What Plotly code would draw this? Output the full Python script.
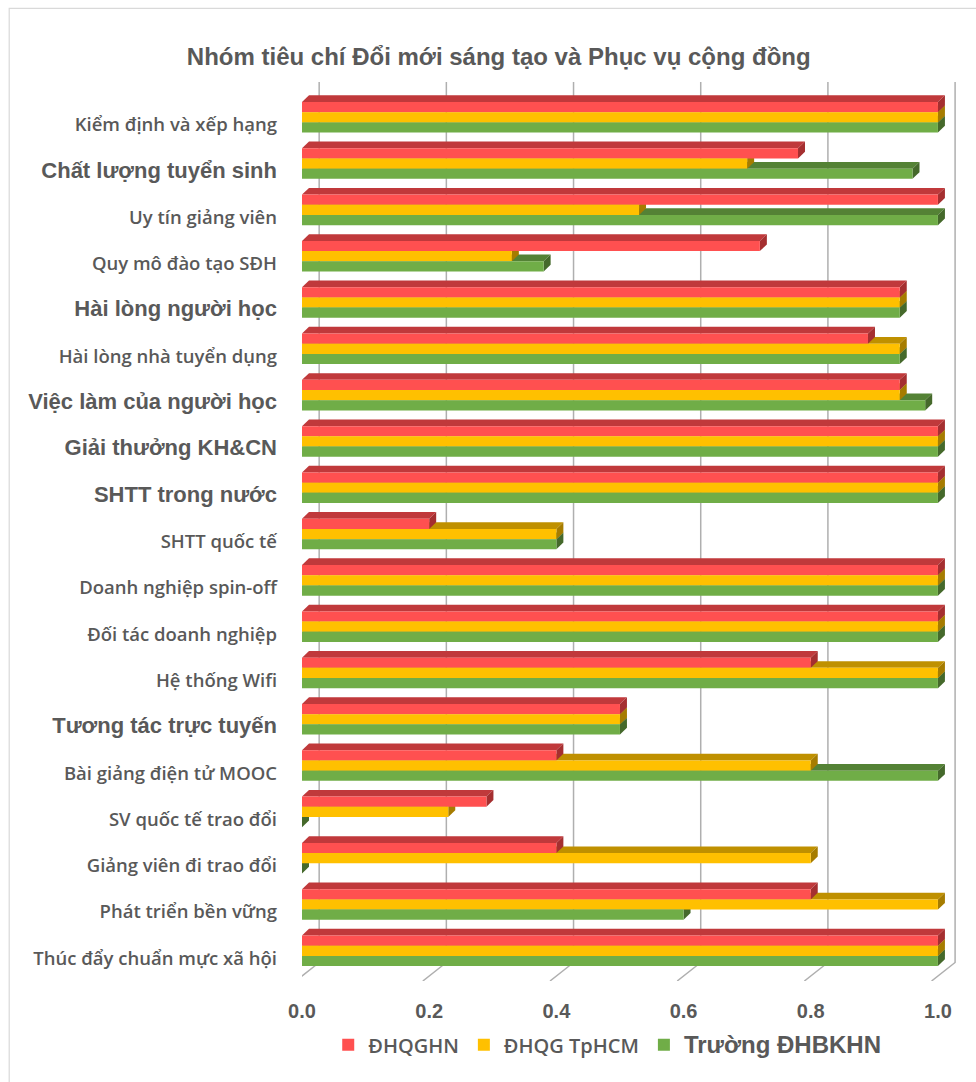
import plotly.graph_objects as go

categories = ["Kiểm định và xếp hạng", "Chất lượng tuyển sinh", "Uy tín giảng viên",
              "Quy mô đào tạo SĐH", "Hài lòng người học", "Hài lòng nhà tuyển dụng",
              "Việc làm của người học", "Giải thưởng KH&CN", "SHTT trong nước",
              "SHTT quốc tế", "Doanh nghiệp spin-off", "Đối tác doanh nghiệp",
              "Hệ thống Wifi", "Tương tác trực tuyến", "Bài giảng điện tử MOOC",
              "SV quốc tế trao đổi", "Giảng viên đi trao đổi", "Phát triển bền vững",
              "Thúc đẩy chuẩn mực xã hội"]
big_label = [False, True, False, False, True, False, True, True, True, False,
             False, False, False, True, False, False, False, False, False]

dhqghn = [1.0, 0.78, 1.0, 0.72, 0.94, 0.89, 0.94, 1.0, 1.0, 0.2, 1.0, 1.0, 0.8, 0.5, 0.4, 0.29, 0.4, 0.8, 1.0]
tphcm = [1.0, 0.70, 0.53, 0.33, 0.94, 0.94, 0.94, 1.0, 1.0, 0.4, 1.0, 1.0, 1.0, 0.5, 0.8, 0.23, 0.8, 1.0, 1.0]
bkhn = [1.0, 0.96, 1.0, 0.38, 0.94, 0.94, 0.98, 1.0, 1.0, 0.4, 1.0, 1.0, 1.0, 0.5, 1.0, 0.0, 0.0, 0.6, 1.0]

series_names = ["ĐHQGHN", "ĐHQG TpHCM",
                "<span style=\"font-family:Liberation Sans;font-weight:bold;font-size:24px\">Trường ĐHBKHN</span>"]
front_colors = ["#FF5050", "#FFC000", "#70AD47"]
top_colors = ["#C0393B", "#BF9000", "#548235"]
side_colors = ["#A52F30", "#A67C00", "#45692B"]

x_ticks = [0.0, 0.2, 0.4, 0.6, 0.8, 1.0]

TXT = "#595959"
BW = 0.22          # bar thickness (category units)
OFF0 = -0.492      # offset of first bar
DX = 0.011         # 3D depth in x units
DY = 0.145         # 3D depth in category units
GX = 0.027         # back-wall shift of gridlines
Y_TOP, Y_BACK, Y_FRONT = -0.924, 18.09, 18.49

idx = list(range(len(categories)))
all_series = [dhqghn, tphcm, bkhn]

fig = go.Figure()
for k, (vals, nm) in enumerate(zip(all_series, series_names)):
    fig.add_trace(go.Bar(
        orientation="h", x=vals, y=idx, name=nm,
        width=BW, offset=OFF0 + k * BW,
        marker=dict(color=front_colors[k], line=dict(width=0)),
    ))

shapes = []
# back-wall gridlines and floor
for t in x_ticks:
    shapes.append(dict(type="path", xref="x", yref="y", layer="below",
                       path=f"M {t+GX},{Y_TOP} L {t+GX},{Y_BACK} L {t-0.01},{Y_FRONT}",
                       line=dict(color="#AFAFAF", width=1.5)))
shapes.append(dict(type="line", xref="x", yref="y", layer="below",
                   x0=-0.006, x1=-0.006, y0=-0.72, y1=Y_BACK + 0.05,
                   line=dict(color="#C8C8C8", width=1.5)))

# 3D top and side faces
for i in idx:
    for k in (2, 1, 0):
        v = all_series[k][i]
        yt = i + OFF0 + k * BW
        shapes.append(dict(type="path", xref="x", yref="y", layer="between",
                           path=f"M 0,{yt} L {v},{yt} L {v+DX},{yt-DY} L {DX},{yt-DY} Z",
                           fillcolor=top_colors[k], line=dict(width=0)))
        shapes.append(dict(type="path", xref="x", yref="y", layer="between",
                           path=f"M {v},{yt} L {v+DX},{yt-DY} L {v+DX},{yt-DY+BW} L {v},{yt+BW} Z",
                           fillcolor=side_colors[k], line=dict(width=0)))

# outer chart border
shapes.append(dict(type="rect", xref="paper", yref="paper", layer="below",
                   x0=-0.447, x1=1.2, y0=-0.2, y1=1.082,
                   line=dict(color="#D9D9D9", width=1.2), fillcolor="rgba(0,0,0,0)"))

ticktext = []
for c, big in zip(categories, big_label):
    if big:
        ticktext.append(f"<span style=\"font-family:Liberation Sans;font-weight:bold;font-size:22px\">{c}</span>")
    else:
        ticktext.append(c)

fig.update_layout(
    width=976, height=1082,
    margin=dict(l=302, r=19, t=82, b=101),
    paper_bgcolor="white", plot_bgcolor="white",
    barmode="overlay",
    showlegend=True,
    title=dict(text="Nhóm tiêu chí Đổi mới sáng tạo và Phục vụ cộng đồng",
               x=0.511, xanchor="center", xref="container",
               y=1 - 57 / 1082, yanchor="middle", yref="container",
               font=dict(family="Liberation Sans", size=24, color=TXT, weight="bold")),
    xaxis=dict(range=[0, 1.03], tickvals=x_ticks, ticktext=[f"{t:.1f}" for t in x_ticks],
               showgrid=False, zeroline=False, showline=False, ticks="",
               ticklabelstandoff=16,
               tickfont=dict(family="Liberation Sans", size=20, color=TXT, weight="bold")),
    yaxis=dict(range=[Y_FRONT, Y_TOP], tickvals=idx, ticktext=ticktext,
               showgrid=False, zeroline=False, showline=False, ticks="",
               ticklabelstandoff=24,
               tickfont=dict(family="Open Sans", size=18.5, color=TXT, weight=600)),
    legend=dict(orientation="h", x=0.466, xanchor="center", y=-0.071, yanchor="middle",
                font=dict(family="Open Sans", size=20, color=TXT, weight=600),
                itemwidth=30, traceorder="normal", bgcolor="rgba(0,0,0,0)"),
    shapes=shapes,
)

fig.write_html("out.html")
